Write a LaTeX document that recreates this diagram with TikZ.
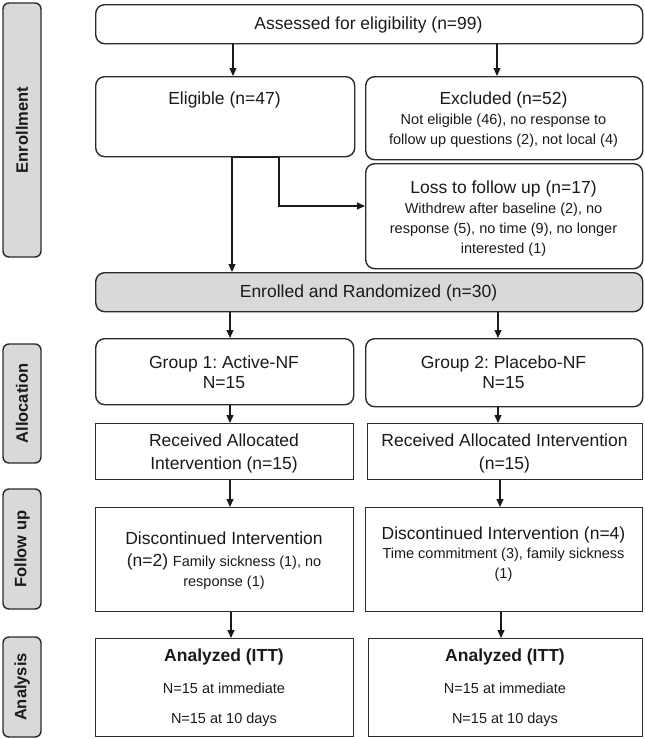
\documentclass[tikz,border=0pt]{standalone}
\usepackage{fontspec}
\setmainfont{Liberation Sans}
\usetikzlibrary{arrows.meta}
\frenchspacing
\newcommand\fA{\fontsize{17.5}{20}\selectfont}
\newcommand\fB{\fontsize{14.5}{18}\selectfont}
\newcommand\fL{\fontsize{16.5}{18}\selectfont\bfseries}
\definecolor{ink}{HTML}{1A1A1A}
\definecolor{edge}{HTML}{2B2B2B}
\definecolor{shade}{HTML}{D9D9D9}
\begin{document}
\begin{tikzpicture}[x=1pt,y=-1pt,
  box/.style={draw=edge, line width=1.4pt, inner sep=0pt, anchor=north west},
  rbox/.style={box, rounded corners=9pt},
  gbox/.style={rbox, fill=shade},
  big/.style={anchor=base, inner sep=0pt, text=ink, font=\fA},
  sml/.style={anchor=base, inner sep=0pt, text=ink, font=\fB},
  bld/.style={anchor=base, inner sep=0pt, text=ink, font=\fA\bfseries},
  lab/.style={draw=edge, line width=1.4pt, fill=shade, rounded corners=6pt, rotate=90, inner sep=0pt, text=ink, font=\fL},
  arr/.style={draw=ink, line width=1.1pt, -{Triangle[length=8pt,width=7pt]}},
  ln/.style={draw=ink, line width=1.1pt}]
\useasboundingbox (0,0) rectangle (645,739);

% side labels
\node[lab, minimum width=254pt, minimum height=38pt] (labE) at (22,130) {Enrollment};
\node[lab, minimum width=119pt, minimum height=38pt] (labA) at (22,403.5) {Allocation};
\node[lab, minimum width=120pt, minimum height=38pt] (labF) at (22,549) {Follow up};
\node[lab, minimum width=100pt, minimum height=38pt] (labN) at (22,687) {Analysis};

% boxes
\node[rbox, minimum width=547pt, minimum height=39pt] (top) at (95,4) {};
\node[rbox, minimum width=259pt, minimum height=80pt] (elig) at (95,76) {};
\node[rbox, minimum width=277pt, minimum height=83pt] (excl) at (365,76) {};
\node[rbox, minimum width=277pt, minimum height=105pt] (loss) at (365,163) {};
\node[gbox, minimum width=547pt, minimum height=39pt] (enr) at (95,272) {};
\node[rbox, minimum width=258pt, minimum height=66pt] (g1) at (95,338) {};
\node[rbox, minimum width=277pt, minimum height=68pt] (g2) at (365,338) {};
\node[box, minimum width=258pt, minimum height=56pt] (r1) at (95,423) {};
\node[box, minimum width=275pt, minimum height=56pt] (r2) at (367,423) {};
\node[box, minimum width=258pt, minimum height=104pt] (d1) at (95,507) {};
\node[box, minimum width=277pt, minimum height=104pt] (d2) at (365,507) {};
\node[box, minimum width=258pt, minimum height=98pt] (a1) at (95,638) {};
\node[box, minimum width=274pt, minimum height=98pt] (a2) at (368,638) {};

% texts
\node[big] (topT) at (368.5,29) {Assessed for eligibility (n=99)};
\node[big] (eligT) at (224.5,104) {Eligible (n=47)};
\node[big] (exclT) at (503.5,104) {Excluded (n=52)};
\node[sml] (exclL1) at (503.5,124) {Not eligible (46), no response to};
\node[sml] (exclL2) at (503.5,144) {follow up questions (2), not local (4)};
\node[big] (lossT) at (503.5,193) {Loss to follow up (n=17)};
\node[sml] (lossL1) at (503.5,213) {Withdrew after baseline (2), no};
\node[sml] (lossL2) at (503.5,233) {response (5), no time (9), no longer};
\node[sml] (lossL3) at (503.5,253) {interested (1)};
\node[big] (enrT) at (368.5,297) {Enrolled and Randomized (n=30)};
\node[big] (g1T) at (224,368) {Group 1: Active-NF};
\node[big] (g1N) at (224,388) {N=15};
\node[big] (g2T) at (503.5,368) {Group 2: Placebo-NF};
\node[big] (g2N) at (503.5,388) {N=15};
\node[big] (r1T) at (224,446) {Received Allocated};
\node[big] (r1N) at (224,469) {Intervention (n=15)};
\node[big] (r2T) at (504.5,446) {Received Allocated Intervention};
\node[big] (r2N) at (504.5,469) {(n=15)};
\node[big] (d1T) at (224,544) {Discontinued Intervention};
\node[big] (d1L1) at (224,566) {(n=2) {\fB Family sickness (1), no}};
\node[sml] (d1L2) at (224,586) {response (1)};
\node[big] (d2T) at (503.5,539) {Discontinued Intervention (n=4)};
\node[sml] (d2L1) at (503.5,558) {Time commitment (3), family sickness};
\node[sml] (d2L2) at (503.5,578) {(1)};
\node[bld] (a1T) at (224,661) {Analyzed (ITT)};
\node[sml] (a1L1) at (224,693) {N=15 at immediate};
\node[sml] (a1L2) at (224,723) {N=15 at 10 days};
\node[bld] (a2T) at (505,661) {Analyzed (ITT)};
\node[sml] (a2L1) at (505,693) {N=15 at immediate};
\node[sml] (a2L2) at (505,723) {N=15 at 10 days};

% connector columns
\coordinate (cA) at (233,0);
\coordinate (cB) at (497,0);
\coordinate (cE) at (232,0);
\coordinate (cS) at (279,0);
\coordinate (cL) at (230,0);
\coordinate (cR) at (498,0);
\coordinate (cR2) at (500,0);
\coordinate (cL3) at (231,0);
\coordinate (cR3) at (501,0);
\coordinate (bend) at (279,206);

\draw[arr] (top.south -| cA) -- (elig.north -| cA);
\draw[arr] (top.south -| cB) -- (excl.north -| cB);
\draw[arr] (elig.south -| cE) -- (enr.north -| cE);
\draw[ln] (elig.south -| cE) -- (elig.south -| cS);
\draw[arr] (elig.south -| cS) -- (bend) -- (loss.west |- bend);
\draw[arr] (enr.south -| cL) -- (g1.north -| cL);
\draw[arr] (enr.south -| cR) -- (g2.north -| cR);
\draw[arr] (g1.south -| cL) -- (r1.north -| cL);
\draw[arr] (g2.south -| cR) -- (r2.north -| cR);
\draw[arr] (r1.south -| cL) -- (d1.north -| cL);
\draw[arr] (r2.south -| cR2) -- (d2.north -| cR2);
\draw[arr] (d1.south -| cL3) -- (a1.north -| cL3);
\draw[arr] (d2.south -| cR3) -- (a2.north -| cR3);
\end{tikzpicture}
\end{document}
